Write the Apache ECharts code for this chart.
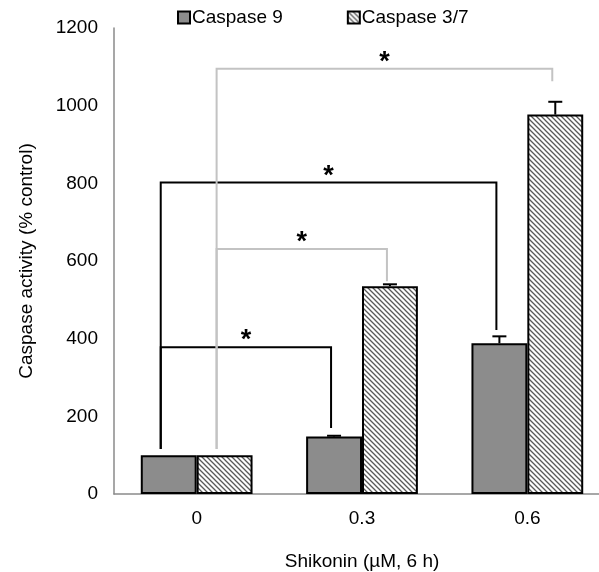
<!DOCTYPE html>
<html>
<head>
<meta charset="utf-8">
<script src="https://cdn.jsdelivr.net/npm/echarts@6/dist/echarts.min.js"></script>
<style>
  html, body { margin: 0; padding: 0; background: #fff; }
  #chart { width: 599px; height: 572px; }
</style>
</head>
<body>
<div id="chart"></div>
<script>
// Caspase activity after shikonin treatment (% of untreated control)
var categories = ['0', '0.3', '0.6'];
var seriesNames = ['Caspase 9', 'Caspase 3/7'];
var caspase9 = [100, 148, 388];
var caspase9Err = [0, 2, 18];
var caspase37 = [100, 535, 977];
var caspase37Err = [0, 5, 33];
var yTicks = [0, 200, 400, 600, 800, 1000, 1200];

// Significance brackets: [from category, to category, series index,
// bracket height, lower end on the left, lower end on the right]
var bracketFrom = [0, 0, 0, 0];
var bracketTo = [1, 1, 2, 2];
var bracketSeries = [0, 1, 0, 1];
var bracketLevel = [378, 631, 802, 1095];
var bracketLeftEnd = [116, 116, 116, 116];
var bracketRightEnd = [170, 548, 422, 1063];
var bracketMark = ['*', '*', '*', '*'];

var FONT = '"Liberation Sans", Arial, sans-serif';
var FS = 19;
var BAR_FRACTION = 0.338;          // bar width as a share of one category band

// diagonal hatch fill for the Caspase 3/7 bars
function hatchPattern() {
  var c = document.createElement('canvas');
  var n = 5;
  c.width = n; c.height = n;
  var g = c.getContext('2d');
  g.fillStyle = '#ffffff';
  g.fillRect(0, 0, n, n);
  g.strokeStyle = '#5a5a5a';
  g.lineWidth = 1.3;
  g.beginPath();
  g.moveTo(-1, -1); g.lineTo(n + 1, n + 1);
  g.moveTo(-1, n - 1); g.lineTo(1, n + 1);
  g.moveTo(n - 1, -1); g.lineTo(n + 1, 1);
  g.stroke();
  return { image: c, repeat: 'repeat' };
}

var errRows = [];
categories.forEach(function (c, i) {
  errRows.push([i, caspase9[i], caspase9Err[i], 0]);
  errRows.push([i, caspase37[i], caspase37Err[i], 1]);
});

var bracketRows = bracketLevel.map(function (lv, k) {
  return [bracketFrom[k], bracketTo[k], bracketSeries[k], lv, bracketLeftEnd[k], bracketRightEnd[k], k];
});

function barCenter(api, cat, s) {
  var band = api.size([1, 0])[0];
  var x = api.coord([cat, 0])[0];
  return x + (s === 0 ? -1 : 1) * band * BAR_FRACTION / 2;
}

var chart = echarts.init(document.getElementById('chart'), null, { renderer: 'canvas' });
chart.setOption({
  animation: false,
  textStyle: { fontFamily: FONT },
  legend: {
    top: 3,
    left: 172,
    itemWidth: 12,
    itemHeight: 12,
    itemGap: 64,
    icon: 'rect',
    textStyle: { fontSize: FS, color: '#000', fontFamily: FONT, padding: [0, 0, 0, -3] },
    data: seriesNames
  },
  grid: { left: 114, top: 28, right: -11, bottom: 78, containLabel: false, outerBoundsMode: 'none' },
  xAxis: {
    type: 'category',
    data: categories,
    axisLine: { show: true, lineStyle: { color: '#8a8a8a', width: 1.5 } },
    axisTick: { show: false },
    axisLabel: { fontSize: FS, color: '#000', margin: 15, fontFamily: FONT },
    name: 'Shikonin (\u00b5M, 6 h)',
    nameLocation: 'middle',
    nameGap: 58,
    nameTextStyle: { fontSize: FS, color: '#000', fontFamily: FONT }
  },
  yAxis: {
    type: 'value',
    min: yTicks[0],
    max: yTicks[yTicks.length - 1],
    interval: yTicks[1] - yTicks[0],
    axisLine: { show: true, lineStyle: { color: '#8a8a8a', width: 1.5 } },
    axisTick: { show: false },
    splitLine: { show: false },
    axisLabel: { fontSize: FS, color: '#000', margin: 16, fontFamily: FONT, formatter: function (v) { return String(v); } },
    name: 'Caspase activity (% control)',
    nameLocation: 'middle',
    nameRotate: 90,
    nameGap: 78,
    nameTextStyle: { fontSize: FS, color: '#000', fontFamily: FONT }
  },
  series: [
    {
      name: seriesNames[0],
      type: 'bar',
      data: caspase9,
      barWidth: (BAR_FRACTION * 100) + '%',
      barGap: '0%',
      itemStyle: { color: '#8c8c8c', borderColor: '#000', borderWidth: 2 }
    },
    {
      name: seriesNames[1],
      type: 'bar',
      data: caspase37,
      barWidth: (BAR_FRACTION * 100) + '%',
      barGap: '0%',
      itemStyle: { color: hatchPattern(), borderColor: '#000', borderWidth: 2 }
    },
    {
      // upward error bars
      type: 'custom',
      data: errRows,
      silent: true,
      z: 5,
      renderItem: function (params, api) {
        var cat = api.value(0), v = api.value(1), e = api.value(2), s = api.value(3);
        if (!(e > 0)) return null;
        var x = barCenter(api, cat, s);
        var y0 = api.coord([cat, v])[1];
        var y1 = api.coord([cat, v + e])[1];
        var st = { stroke: '#000', lineWidth: 2 };
        return {
          type: 'group',
          children: [
            { type: 'line', shape: { x1: x, y1: y0, x2: x, y2: y1 }, style: st },
            { type: 'line', shape: { x1: x - 7, y1: y1, x2: x + 7, y2: y1 }, style: st }
          ]
        };
      }
    },
    {
      // significance brackets with asterisks
      type: 'custom',
      data: bracketRows,
      silent: true,
      z: 6,
      renderItem: function (params, api) {
        var from = api.value(0), to = api.value(1), s = api.value(2);
        var lv = api.value(3), lo = api.value(4), ro = api.value(5), k = api.value(6);
        var color = s === 0 ? '#000000' : '#c3c3c3';
        var xl = barCenter(api, from, s) - 8;
        var xr = barCenter(api, to, s) - 3;
        var yl = api.coord([from, lv])[1];
        var yLeft = api.coord([from, lo])[1];
        var yRight = api.coord([to, ro])[1];
        var st = { stroke: color, lineWidth: 2, fill: null };
        return {
          type: 'group',
          children: [
            { type: 'polyline', shape: { points: [[xl, yLeft], [xl, yl], [xr, yl], [xr, yRight]] }, style: st },
            {
              type: 'text',
              x: (xl + xr) / 2,
              y: yl + 7,
              style: {
                text: bracketMark[k],
                fill: '#000',
                font: 'bold 27px ' + FONT,
                textAlign: 'center',
                verticalAlign: 'bottom'
              }
            }
          ]
        };
      }
    }
  ]
});
</script>
</body>
</html>
